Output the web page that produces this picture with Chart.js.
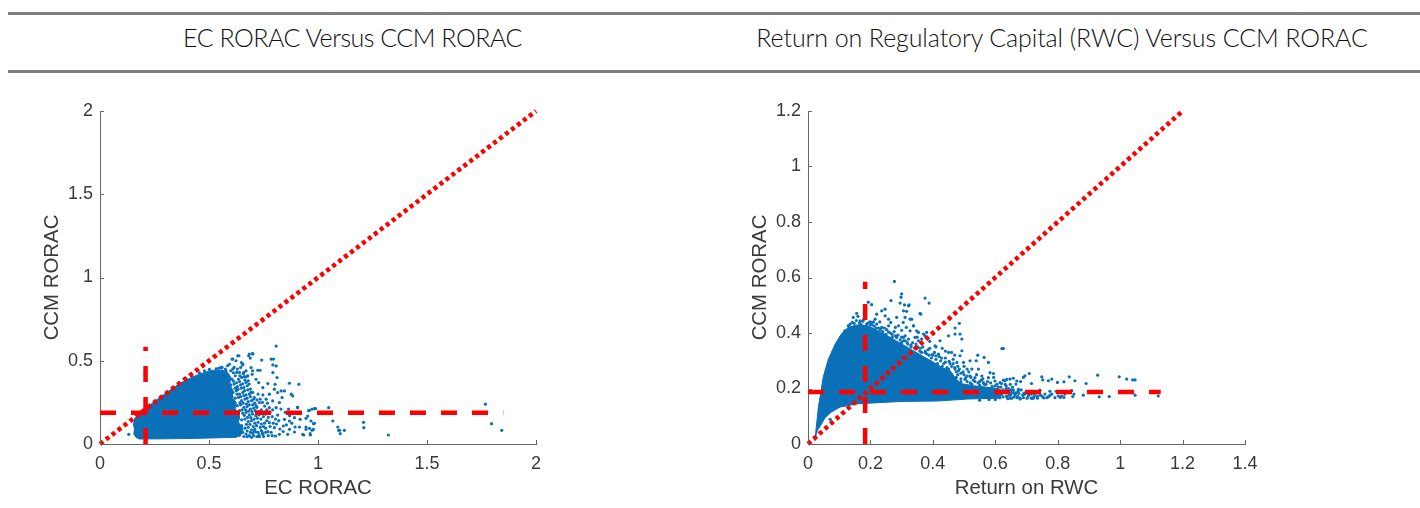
<!DOCTYPE html>
<html>
<head>
<meta charset="utf-8">
<script src="https://cdn.jsdelivr.net/npm/chart.js@4"></script>
<style>
  html, body { margin: 0; padding: 0; background: #fff; }
  body { position: relative; width: 1420px; height: 508px; overflow: hidden; }
  .rule { position: absolute; left: 8px; right: 0; height: 3px; background: #808080; }
  .heading { position: absolute; top: 20px; height: 34px; line-height: 34px; text-align: center;
    font-family: Lato, sans-serif; font-weight: 300; font-size: 25px; color: #111; white-space: nowrap; }
  canvas { position: absolute; top: 90px; }
</style>
</head>
<body>
<div class="rule" style="top:12px"></div>
<div class="rule" style="top:70px"></div>
<div class="heading" style="left:0;width:705px;letter-spacing:-0.48px">EC RORAC Versus CCM RORAC</div>
<div class="heading" style="left:710px;width:704px;letter-spacing:-0.1px">Return on Regulatory Capital (RWC) Versus CCM RORAC</div>
<canvas id="left" width="700" height="418" style="left:0"></canvas>
<canvas id="right" width="720" height="418" style="left:700px"></canvas>
<script>
// tick values
var xTicksEc = [0, 0.5, 1, 1.5, 2];
var yTicksEc = [0, 0.5, 1, 1.5, 2];
var xTicksRwc = [0, 0.2, 0.4, 0.6, 0.8, 1, 1.2, 1.4];
var yTicksRwc = [0, 0.2, 0.4, 0.6, 0.8, 1, 1.2];

// reference lines
var diagonalEc = [[0, 0], [2, 2]];
var hurdleHorizEc = [[0, 0.187], [1.85, 0.187]];
var hurdleVertEc = [[0.209, 0], [0.209, 0.584]];
var diagonalRwc = [[0, 0], [1.2, 1.2]];
var hurdleHorizRwc = [[0, 0.187], [1.13, 0.187]];
var hurdleVertRwc = [[0.183, 0], [0.183, 0.585]];

// outline of the solid part of the EC cloud
var cloudEc = [[0.156,0.15],[0.227,0.232],[0.288,0.293],[0.364,0.363],[0.441,0.412],[0.48,0.43],[0.517,0.443],
  [0.56,0.445],[0.585,0.43],[0.6,0.4],[0.595,0.36],[0.61,0.32],[0.605,0.28],[0.625,0.25],[0.62,0.21],[0.64,0.17],
  [0.635,0.13],[0.655,0.095],[0.65,0.06],[0.625,0.04],[0.56,0.038],[0.45,0.034],[0.3,0.031],[0.18,0.03],
  [0.165,0.04],[0.155,0.06],[0.158,0.09],[0.152,0.125]];

// single dots around the EC cloud
var dotsEc = [[0.808,0.588],[0.701,0.54],[0.682,0.53],[0.689,0.516],[0.637,0.53],[0.606,0.51],[0.624,0.5],[0.649,0.489],
  [0.594,0.479],[0.655,0.475],[0.742,0.504],[0.785,0.51],[0.796,0.51],[0.793,0.475],[0.808,0.469],[0.793,0.429],[0.812,0.399],
  [0.724,0.443],[0.734,0.443],[0.693,0.459],[0.698,0.419],[0.678,0.409],[0.716,0.389],[0.728,0.369],[0.747,0.339],[0.77,0.363],
  [0.803,0.359],[0.869,0.365],[0.912,0.359],[0.8,0.329],[0.831,0.319],[0.846,0.319],[0.815,0.309],[0.877,0.299],[0.884,0.289],
  [0.835,0.279],[0.747,0.295],[0.777,0.299],[0.762,0.269],[0.792,0.259],[0.823,0.249],[0.731,0.249],[0.708,0.279],[0.808,0.218],
  [0.777,0.218],[0.907,0.218],[0.961,0.202],[0.984,0.212],[1.049,0.218],[0.953,0.168],[0.945,0.154],[1.068,0.138],[0.815,0.174],
  [0.846,0.148],[0.869,0.138],[0.892,0.158],[0.918,0.148],[0.968,0.138],[0.984,0.124],[0.895,0.102],[0.915,0.102],[0.841,0.108],
  [0.869,0.088],[0.892,0.072],[0.861,0.058],[0.935,0.054],[0.965,0.054],[0.945,0.102],[0.961,0.094],[0.979,0.088],[1.091,0.102],
  [1.095,0.082],[0.777,0.128],[0.8,0.098],[0.823,0.058],[0.747,0.058],[0.731,0.044],[0.77,0.074],[0.708,0.078],[0.805,0.048],
  [1.099,0.082],[1.102,0.062],[1.121,0.082],[1.209,0.13],[1.21,0.098],[1.323,0.054],[1.768,0.239],[1.796,0.122],[1.843,0.082],
  [0.989,0.213],[0.973,0.21],[0.957,0.2],[0.132,0.058],[0.906,0.222],[0.979,0.122],[0.973,0.082],[0.945,0.088],[0.93,0.058],[0.964,0.062],
  [0.56,0.46],[0.575,0.45],[0.585,0.47],[0.6,0.44],[0.615,0.46],[0.63,0.45],[0.645,0.46],[0.66,0.43],[0.67,0.44],[0.565,0.42],
  [0.59,0.41],[0.605,0.39],[0.62,0.41],[0.635,0.39],[0.65,0.4],[0.665,0.385],[0.68,0.38],[0.585,0.37],[0.6,0.355],[0.615,0.36],
  [0.63,0.345],[0.645,0.355],[0.66,0.34],[0.675,0.35],[0.69,0.33],[0.595,0.325],[0.61,0.31],[0.625,0.32],[0.64,0.3],[0.655,0.31],
  [0.67,0.295],[0.685,0.3],[0.7,0.31],[0.605,0.285],[0.62,0.275],[0.635,0.28],[0.65,0.26],[0.665,0.27],[0.68,0.255],[0.695,0.26],
  [0.71,0.245],[0.61,0.24],[0.63,0.23],[0.645,0.235],[0.66,0.22],[0.675,0.225],[0.69,0.21],[0.705,0.215],[0.72,0.22],[0.74,0.205],
  [0.625,0.195],[0.64,0.2],[0.655,0.185],[0.67,0.19],[0.685,0.175],[0.7,0.18],[0.715,0.17],[0.73,0.175],[0.75,0.165],[0.635,0.155],
  [0.65,0.145],[0.665,0.15],[0.68,0.135],[0.695,0.14],[0.71,0.125],[0.725,0.13],[0.74,0.12],[0.755,0.125],[0.65,0.11],[0.665,0.095],
  [0.68,0.1],[0.695,0.085],[0.71,0.09],[0.725,0.07],[0.74,0.08],[0.76,0.095],[0.655,0.07],[0.67,0.06],[0.685,0.05],[0.7,0.065],
  [0.72,0.045],[0.66,0.045],[0.64,0.052]];

// denser dots close to the edge of the EC cloud
var fringeEc = [[0.632,0.53],[0.609,0.51],[0.655,0.48],[0.555,0.46],[0.533,0.452],[0.502,0.448],[0.479,0.44],[0.456,0.428],
  [0.578,0.44],[0.609,0.45],[0.64,0.43],[0.662,0.405],[0.7,0.44],[0.685,0.54],[0.7,0.544],[0.42,0.408],[0.395,0.393],[0.545,0.456],
  [0.612,0.428],[0.627,0.43],[0.642,0.41],[0.657,0.422],[0.672,0.405],[0.612,0.378],[0.626,0.368],[0.64,0.375],[0.655,0.362],[0.67,0.37],
  [0.684,0.36],[0.62,0.335],[0.633,0.328],[0.648,0.335],[0.663,0.32],[0.678,0.325],[0.692,0.31],[0.628,0.3],[0.645,0.285],[0.66,0.29],
  [0.675,0.275],[0.69,0.285],[0.705,0.27],[0.642,0.248],[0.657,0.245],[0.672,0.24],[0.685,0.235],[0.7,0.235],[0.716,0.23],[0.652,0.205],
  [0.668,0.205],[0.682,0.198],[0.697,0.195],[0.712,0.2],[0.728,0.195],[0.662,0.172],[0.677,0.16],[0.692,0.158],[0.707,0.15],[0.722,0.155],
  [0.738,0.15],[0.672,0.118],[0.688,0.118],[0.703,0.105],[0.718,0.11],[0.735,0.1],[0.75,0.105],[0.675,0.078],[0.69,0.07],[0.705,0.05],
  [0.715,0.072],[0.73,0.055],[0.745,0.068],[0.675,0.044],[0.695,0.04],[0.76,0.07],
  [0.725,0.3],[0.735,0.27],[0.72,0.265],[0.745,0.25],[0.755,0.228],[0.768,0.245],[0.765,0.205],[0.78,0.19],[0.792,0.205],[0.76,0.18],
  [0.772,0.16],[0.79,0.165],[0.805,0.15],[0.82,0.14],[0.765,0.14],[0.78,0.105],[0.795,0.125],[0.81,0.12],[0.825,0.09],[0.785,0.07],
  [0.75,0.045],[0.772,0.05],[0.79,0.05],[0.84,0.075],[0.855,0.115],[0.85,0.19],[0.865,0.21],[0.83,0.21],[0.87,0.17],[0.88,0.125]];

// outline of the solid part of the RWC cloud
var cloudRwc = [[0.022,0.011],[0.033,0.131],[0.049,0.242],[0.065,0.305],[0.087,0.36],[0.108,0.398],[0.129,0.42],[0.161,0.43],
  [0.193,0.426],[0.236,0.402],[0.279,0.374],[0.332,0.34],[0.37,0.315],[0.402,0.295],[0.43,0.275],[0.455,0.265],[0.472,0.238],
  [0.49,0.218],[0.53,0.21],[0.57,0.205],[0.61,0.2],[0.63,0.185],[0.61,0.165],[0.51,0.162],[0.418,0.155],[0.295,0.153],
  [0.226,0.149],[0.161,0.145],[0.103,0.133],[0.075,0.115],[0.055,0.095],[0.033,0.053]];

// single dots around the RWC cloud
var dotsRwc = [[0.277,0.586],[0.3,0.541],[0.298,0.529],[0.266,0.517],[0.295,0.508],[0.193,0.511],[0.204,0.502],[0.309,0.501],
  [0.324,0.501],[0.306,0.48],[0.316,0.478],[0.359,0.471],[0.247,0.486],[0.236,0.48],[0.156,0.471],[0.145,0.456],[0.22,0.468],
  [0.215,0.45],[0.135,0.432],[0.129,0.426],[0.167,0.444],[0.247,0.462],[0.258,0.45],[0.284,0.456],[0.29,0.426],[0.305,0.438],
  [0.332,0.45],[0.338,0.426],[0.327,0.408],[0.37,0.396],[0.354,0.402],[0.311,0.39],[0.343,0.384],[0.364,0.378],[0.204,0.438],
  [0.22,0.432],[0.236,0.42],[0.258,0.426],[0.119,0.396],[0.103,0.366],[0.092,0.354],[0.071,0.089],[0.375,0.526],[0.388,0.508],
  [0.361,0.468],[0.485,0.435],[0.471,0.418],[0.471,0.396],[0.487,0.396],[0.493,0.378],[0.45,0.39],[0.621,0.344],[0.626,0.344],
  [0.493,0.336],[0.544,0.32],[0.564,0.312],[0.578,0.294],[0.519,0.3],[0.539,0.3],[0.546,0.27],[0.487,0.318],[0.498,0.294],
  [0.477,0.294],[0.45,0.33],[0.423,0.372],[0.407,0.354],[0.418,0.324],[0.402,0.396],[0.38,0.402],[0.375,0.39],[0.348,0.408],
  [0.327,0.45],[0.338,0.426],[0.311,0.456],[0.322,0.498],[0.306,0.384],[0.354,0.372],[0.583,0.257],[0.594,0.254],[0.557,0.245],
  [0.535,0.239],[0.519,0.245],[0.503,0.233],[0.482,0.264],[0.471,0.27],[0.562,0.221],[0.578,0.239],[0.615,0.221],[0.637,0.233],
  [0.658,0.237],[0.669,0.227],[0.648,0.215],[0.626,0.23],[0.599,0.227],[0.674,0.197],[0.664,0.179],[0.669,0.167],[0.653,0.165],
  [0.637,0.17],[0.709,0.254],[0.695,0.246],[0.69,0.24],[0.647,0.234],[0.631,0.228],[0.62,0.218],[0.666,0.216],[0.681,0.225],
  [0.716,0.218],[0.749,0.242],[0.752,0.231],[0.77,0.228],[0.781,0.234],[0.799,0.222],[0.82,0.224],[0.837,0.242],[0.855,0.228],
  [0.891,0.218],[0.928,0.248],[0.997,0.242],[1.021,0.234],[1.04,0.231],[1.048,0.231],[0.743,0.194],[0.759,0.18],[0.765,0.167],
  [0.781,0.18],[0.791,0.167],[0.802,0.173],[0.813,0.173],[0.823,0.18],[0.845,0.192],[0.852,0.18],[0.848,0.171],[0.882,0.176],
  [0.933,0.17],[0.965,0.171],[1.048,0.176],[1.122,0.173],[0.615,0.167],[0.636,0.173],[0.663,0.18],[0.674,0.192],[0.69,0.167],
  [0.706,0.173],[0.722,0.165],[0.727,0.18],[0.711,0.186],[0.647,0.165],[0.679,0.165],[0.626,0.186],[0.652,0.186],[0.695,0.18],
  [0.345,0.35],[0.36,0.345],[0.375,0.33],[0.39,0.345],[0.4,0.32],[0.41,0.305],[0.425,0.3],[0.44,0.31],[0.455,0.29],[0.465,0.305],
  [0.43,0.28],[0.445,0.275],[0.47,0.275],[0.48,0.25],[0.49,0.235],[0.5,0.25],[0.51,0.225],[0.52,0.22],[0.53,0.23],[0.545,0.22],
  [0.555,0.23],[0.57,0.215],[0.585,0.22],[0.6,0.21],[0.61,0.205],[0.635,0.2],[0.65,0.195],[0.655,0.205],[0.64,0.185],[0.66,0.17],
  [0.2,0.43],[0.17,0.43],[0.15,0.425],[0.14,0.42],[0.125,0.41],[0.115,0.395],[0.1,0.37],[0.08,0.33],[0.25,0.395],[0.27,0.385],
  [0.28,0.39],[0.3,0.365],[0.32,0.36],[0.33,0.35],[0.295,0.375]];

// denser dots close to the edge of the RWC cloud
var fringeRwc = [[0.105,0.385],[0.118,0.408],[0.13,0.425],[0.142,0.438],[0.155,0.445],[0.175,0.442],[0.188,0.432],[0.198,0.44],[0.212,0.425],
  [0.226,0.418],[0.24,0.405],[0.252,0.412],[0.264,0.4],[0.276,0.405],[0.288,0.392],[0.3,0.385],[0.312,0.372],[0.322,0.378],[0.335,0.365],
  [0.346,0.36],[0.358,0.335],[0.368,0.35],[0.38,0.325],[0.385,0.34],[0.395,0.31],[0.405,0.33],[0.415,0.29],[0.42,0.315],[0.435,0.29],
  [0.45,0.27],[0.46,0.28],[0.475,0.26],[0.485,0.27],[0.49,0.225],[0.497,0.26],[0.505,0.238],[0.515,0.26],[0.525,0.215],[0.535,0.225],
  [0.54,0.25],[0.55,0.212],[0.56,0.235],[0.565,0.215],[0.575,0.225],[0.59,0.208],[0.595,0.24],[0.605,0.215],[0.618,0.205],[0.625,0.195],
  [0.632,0.215],[0.642,0.2],[0.645,0.175],[0.658,0.195],[0.668,0.185],[0.672,0.172],[0.683,0.195],[0.688,0.176],[0.7,0.19],[0.702,0.165],
  [0.716,0.18],[0.718,0.165],[0.735,0.172],[0.74,0.184],[0.75,0.172],[0.77,0.17],[0.775,0.19],[0.795,0.19],[0.808,0.168],[0.82,0.168],
  [0.6,0.175],[0.625,0.17],[0.64,0.163],[0.6,0.16],[0.58,0.16],[0.55,0.158],[0.68,0.162],[0.715,0.165],[0.735,0.165],
  [0.16,0.46],[0.185,0.455],[0.21,0.44],[0.23,0.44],[0.265,0.438],[0.28,0.42],[0.3,0.41],[0.315,0.42],[0.35,0.385],[0.39,0.37],
  [0.41,0.35],[0.43,0.345],[0.44,0.335],[0.46,0.33],[0.47,0.32],[0.46,0.25],[0.475,0.24],[0.51,0.27],[0.525,0.27],[0.5,0.28],
  [0.148,0.435],[0.165,0.437],[0.178,0.448],[0.192,0.436],[0.205,0.43],[0.218,0.418],[0.232,0.412],[0.245,0.418],[0.258,0.404],[0.27,0.395],
  [0.284,0.384],[0.306,0.372],[0.318,0.365],[0.33,0.356],[0.342,0.345],[0.352,0.35],[0.364,0.33],[0.376,0.335],[0.388,0.32],[0.398,0.322],
  [0.41,0.318],[0.428,0.31],[0.44,0.295],[0.452,0.298],[0.465,0.29],[0.48,0.28],[0.49,0.255],[0.51,0.245],[0.522,0.24],[0.55,0.225],
  [0.635,0.21],[0.65,0.178],[0.66,0.185],[0.676,0.182],[0.692,0.183],[0.708,0.178],[0.725,0.172],[0.745,0.176],[0.755,0.166],[0.775,0.175]];

function toPoints(pairs) {
  return pairs.map(function (p) { return { x: p[0], y: p[1] }; });
}

// short ticks pointing into the plot, Chart.js only draws them outwards
var insideTicks = {
  id: "insideTicks",
  afterDraw: function (chart) {
    var ctx = chart.ctx;
    var area = chart.chartArea;
    ctx.save();
    ctx.strokeStyle = "#666";
    ctx.lineWidth = 1;
    ctx.beginPath();
    chart.scales.x.ticks.forEach(function (t) {
      var px = Math.round(chart.scales.x.getPixelForValue(t.value)) + 0.5;
      ctx.moveTo(px, area.bottom);
      ctx.lineTo(px, area.bottom - 4);
    });
    chart.scales.y.ticks.forEach(function (t) {
      var py = Math.round(chart.scales.y.getPixelForValue(t.value)) + 0.5;
      ctx.moveTo(area.left, py);
      ctx.lineTo(area.left + 4, py);
    });
    ctx.stroke();
    ctx.restore();
  }
};

function axis(maxValue, ticks, title, position, fitSize, titlePad) {
  return {
    type: "linear",
    position: position,
    min: 0,
    max: maxValue,
    afterBuildTicks: function (scale) {
      scale.ticks = ticks.map(function (v) { return { value: v }; });
    },
    afterFit: function (scale) {
      if (position === "left") { scale.width = fitSize; } else { scale.height = fitSize; }
    },
    grid: { display: true, drawOnChartArea: false, drawTicks: false },
    border: { color: "#666", width: 1 },
    ticks: {
      color: "#3a3a3a",
      autoSkip: false,
      maxRotation: 0,
      padding: position === "left" ? 7 : 9,
      font: { family: "'Liberation Sans', Arial, sans-serif", size: 18 },
      callback: function (v) { return String(v); }
    },
    title: {
      display: true,
      text: title,
      color: "#3a3a3a",
      font: { family: "'Liberation Sans', Arial, sans-serif", size: 20.4 },
      padding: titlePad
    }
  };
}

function drawPanel(id, o) {
  new Chart(document.getElementById(id), {
    type: "scatter",
    data: {
      datasets: [
        { data: toPoints(o.diagonal), showLine: true, borderColor: "#f00", borderWidth: 4.6, borderDash: [4, 3.5], pointRadius: 0, clip: false, order: 1 },
        { data: toPoints(o.horiz), showLine: true, borderColor: "#f00", borderWidth: 4.5, borderDash: [16, 15], pointRadius: 0, clip: false, order: 2 },
        { data: toPoints(o.vert), showLine: true, borderColor: "#f00", borderWidth: 4.5, borderDash: [16, 15], pointRadius: 0, clip: false, order: 3 },
        { data: toPoints(o.dots.concat(o.fringe)), showLine: false, pointRadius: 1.6, pointBorderWidth: 0, pointBackgroundColor: "#0a70b8", order: 4 },
        { data: toPoints(o.cloud), showLine: true, fill: "shape", tension: 0, backgroundColor: "#0a70b8", borderColor: "#0a70b8", borderWidth: 1, pointRadius: 0, order: 5 }
      ]
    },
    options: {
      responsive: false,
      animation: false,
      events: [],
      layout: { padding: { top: 21, right: o.padRight, bottom: 0, left: 0 } },
      plugins: { legend: { display: false }, tooltip: { enabled: false } },
      scales: {
        x: axis(o.xMax, o.xTicks, o.xTitle, "bottom", 64, { top: 0, bottom: 7 }),
        y: axis(o.yMax, o.yTicks, "CCM RORAC", "left", o.yWidth, { top: o.yTitlePad, bottom: 0 })
      }
    },
    plugins: [insideTicks]
  });
}

drawPanel("left", {
  diagonal: diagonalEc, horiz: hurdleHorizEc, vert: hurdleVertEc, dots: dotsEc, fringe: fringeEc, cloud: cloudEc,
  xMax: 2, yMax: 2, xTicks: xTicksEc, yTicks: yTicksEc, xTitle: "EC RORAC",
  padRight: 164, yWidth: 100, yTitlePad: 40
});
drawPanel("right", {
  diagonal: diagonalRwc, horiz: hurdleHorizRwc, vert: hurdleVertRwc, dots: dotsRwc, fringe: fringeRwc, cloud: cloudRwc,
  xMax: 1.4, yMax: 1.2, xTicks: xTicksRwc, yTicks: yTicksRwc, xTitle: "Return on RWC",
  padRight: 175, yWidth: 108, yTitlePad: 48
});
</script>
</body>
</html>
